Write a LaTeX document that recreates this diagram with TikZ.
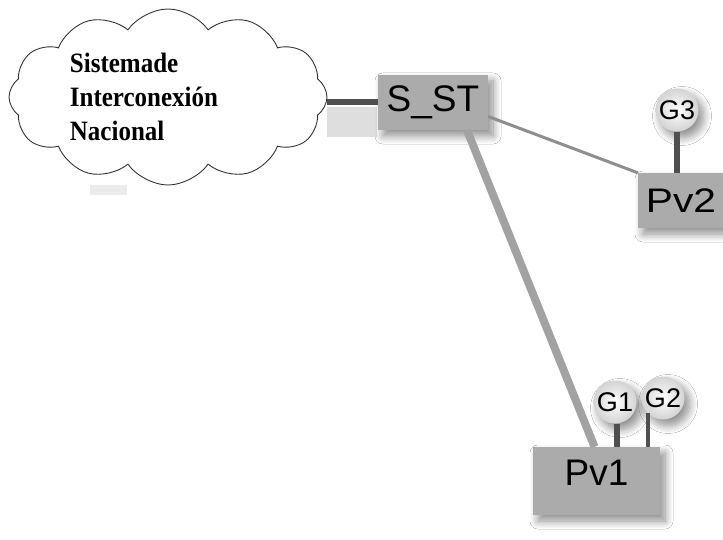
\documentclass[tikz,border=0pt]{standalone}
\usepackage{fontspec}
\setmainfont{Liberation Serif}
\setsansfont{Liberation Sans}
\usetikzlibrary{shapes.symbols,shadows.blur}

\definecolor{boxgray}{HTML}{ABABAB}
\definecolor{linkdark}{HTML}{4F4F4F}
\definecolor{linkmid}{HTML}{A2A2A2}
\definecolor{linklight}{HTML}{8E8E8E}

\tikzset{
  softshadow/.style={blur shadow={shadow xshift=5pt, shadow yshift=-6pt,
      shadow blur radius=8pt, shadow blur steps=10, shadow opacity=45}},
  station/.style={rectangle, fill=boxgray, inner sep=0pt, softshadow,
      font=\sffamily\fontsize{37}{37}\selectfont},
  gen/.style={circle, minimum size=43pt, inner sep=0pt,
      inner color=white, outer color=black!17, softshadow,
      font=\sffamily\fontsize{27}{27}\selectfont},
  grid/.style={draw=black!80, line width=0.9pt, fill=white, cloud,
      cloud puffs=12, cloud puff arc=110, cloud ignores aspect},
  stem/.style={draw=linkdark, line width=#1},
}

\begin{document}
\begin{tikzpicture}[x=1pt, y=-1pt]
  \useasboundingbox (0,0) rectangle (723,540);
  \clip (0,0) rectangle (723,540);
  \fill[white] (0,0) rectangle (723,540);

  % national grid cloud
  \node[grid, minimum width=318pt, minimum height=176pt] (sin) at (168,97) {};
  \node[align=left, inner sep=0pt,
        font=\bfseries\fontsize{25}{34}\selectfont] (sintext) at (144,97)
        {\scalebox{1}[1.12]{Sistemade}\\
         \scalebox{1}[1.12]{Interconexión}\\
         \scalebox{1}[1.12]{Nacional}};

  % faint marks next to the cloud
  \fill[black!13] (327,107) rectangle (377,137);
  \fill[black!8] (90,185) rectangle (127,195);

  % substations
  \node[station, minimum width=110pt, minimum height=55pt] (sst) at (433,102.5) {S\_ST};
  \node[station, minimum width=86pt, minimum height=55pt] (pv2) at (681,200.5)
        {\scalebox{1.1}[0.92]{Pv2}};
  \node[station, minimum width=127pt, minimum height=68pt, text depth=16pt] (pv1)
        at (596.5,481) {Pv1};

  % transmission links
  \draw[draw=linkdark, line width=6pt] (sin.east |- sst.west) -- (sst.west);
  \draw[draw=linklight, line width=3pt] ([yshift=-14pt]sst.east) -- (pv2.north west);
  \draw[draw=linkmid, line width=8pt] ([xshift=34pt]sst.south) -- ([xshift=-2pt]pv1.north);

  % generators
  \node[gen] (g3) at (677,110) {G3};
  \node[gen] (g1) at (615,402) {G1};
  \node[gen] (g2) at (663,398) {G2};

  \draw[stem=6pt] (g3.south) -- (g3.south |- pv2.north);
  \draw[stem=6pt] ([xshift=2pt]g1.south) -- ([xshift=2pt]g1.south |- pv1.north);
  \draw[stem=4pt] (g2.south west) -- (g2.south west |- pv1.north);
\end{tikzpicture}
\end{document}
